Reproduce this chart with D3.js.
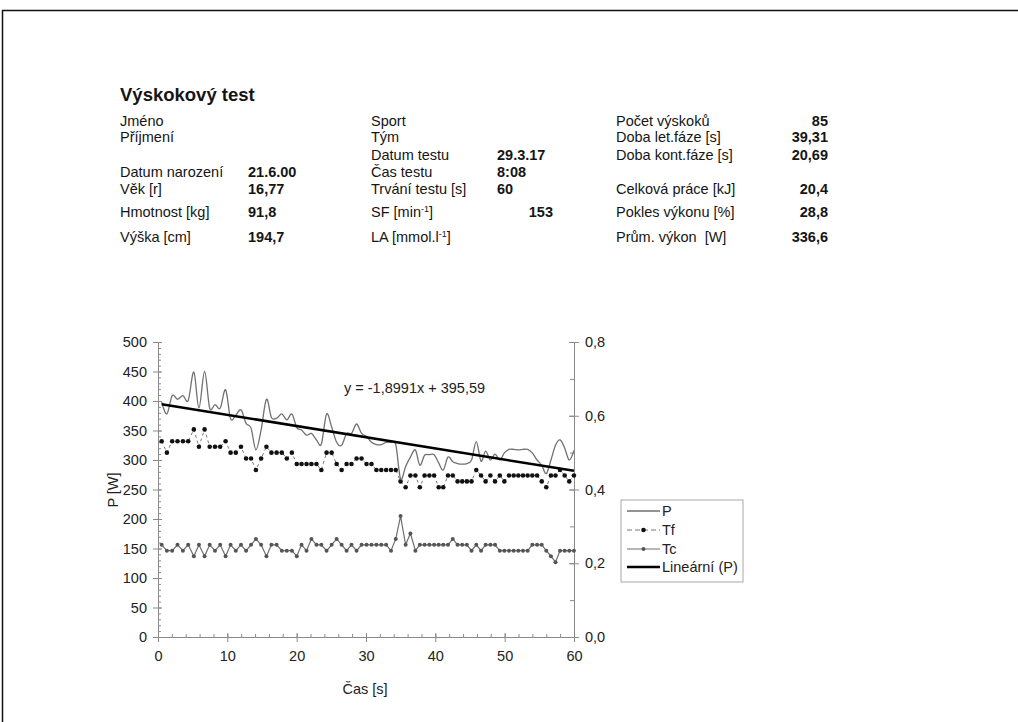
<!DOCTYPE html>
<html>
<head>
<meta charset="utf-8">
<script src="https://cdn.jsdelivr.net/npm/d3@7"></script>
<style>
html, body { margin: 0; padding: 0; background: #fff; }
svg { display: block; font-family: "Liberation Sans", Arial, sans-serif; }
svg text { white-space: pre; }
</style>
</head>
<body>
<svg id="chart" width="1018" height="722"></svg>
<script>
// Flight time per jump [s]
const tf = [
  0.531, 0.500, 0.531, 0.531, 0.531, 0.531, 0.563, 0.516, 0.563, 0.516,
  0.516, 0.516, 0.531, 0.500, 0.500, 0.516, 0.484, 0.484, 0.453, 0.484,
  0.516, 0.500, 0.500, 0.500, 0.484, 0.500, 0.469,
  0.469, 0.469, 0.469, 0.469, 0.453, 0.500, 0.500, 0.469, 0.453, 0.469,
  0.469, 0.484, 0.484, 0.469, 0.469, 0.453, 0.453, 0.453, 0.453, 0.453,
  0.422, 0.406, 0.438, 0.438, 0.406, 0.438, 0.438, 0.438, 0.406, 0.406,
  0.438, 0.438, 0.422, 0.422, 0.422, 0.422, 0.453, 0.438, 0.422, 0.438,
  0.422, 0.438, 0.422, 0.438, 0.438, 0.438, 0.438, 0.438, 0.438, 0.438,
  0.422, 0.406, 0.438, 0.438, 0.453, 0.438, 0.422, 0.438
];
// Contact time per jump [s]
const tc = [
  0.250, 0.234, 0.234, 0.250, 0.234, 0.250, 0.219, 0.250, 0.219, 0.250,
  0.234, 0.250, 0.219, 0.250, 0.234, 0.250, 0.234, 0.250, 0.266, 0.250,
  0.219, 0.250, 0.250, 0.234, 0.234, 0.234, 0.219, 0.250, 0.234, 0.266,
  0.250, 0.250, 0.234, 0.250, 0.266, 0.250, 0.234, 0.250, 0.234,
  0.250, 0.250, 0.250, 0.250, 0.250, 0.250, 0.234, 0.266, 0.328, 0.250,
  0.281, 0.234, 0.250, 0.250, 0.250, 0.250, 0.250, 0.250, 0.250, 0.266,
  0.250, 0.250, 0.250, 0.234, 0.250, 0.234, 0.250, 0.250, 0.250, 0.234,
  0.234, 0.234, 0.234, 0.234, 0.234, 0.234, 0.250, 0.250, 0.250, 0.234,
  0.219, 0.203, 0.234, 0.234, 0.234, 0.234
];
// Power per jump [W]
const power = [
  398, 378, 409, 403, 409, 401, 449, 388, 450, 388,
  394, 388, 419, 370, 376, 385, 362, 354, 317, 351,
  403, 372, 371, 378, 368, 378, 355,
  351, 342, 345, 334, 327, 378, 356, 330, 325, 345,
  345, 361, 345, 340, 330, 326, 326, 330, 330, 326,
  268, 289, 305, 317, 291, 308, 309, 309, 295, 283,
  305, 297, 294, 293, 294, 300, 331, 298, 315, 300,
  310, 300, 312, 318, 318, 317, 318, 318, 312, 300,
  291, 277, 300, 325, 334, 320, 300, 316
];
// Linear trend of P over time
const trendSlope = -1.8991;
const trendIntercept = 395.59;

const timeTicks = [0, 10, 20, 30, 40, 50, 60];
const powerTicks = [0, 50, 100, 150, 200, 250, 300, 350, 400, 450, 500];
const ratioTicks = [0, 0.2, 0.4, 0.6, 0.8];
const seriesNames = ["P", "Tf", "Tc", "Lineární (P)"];

const title = "Výskokový test";
const personInfo = [
  ["Jméno", ""], ["Příjmení", ""], ["Datum narození", "21.6.00"],
  ["Věk [r]", "16,77"], ["Hmotnost [kg]", "91,8"], ["Výška [cm]", "194,7"]
];
const testInfo = [
  ["Sport", ""], ["Tým", ""], ["Datum testu", "29.3.17"], ["Čas testu", "8:08"],
  ["Trvání testu [s]", "60"], ["SF [min", "153", "-1"], ["LA [mmol.l", "", "-1"]
];
const resultInfo = [
  ["Počet výskoků", "85"], ["Doba let.fáze [s]", "39,31"], ["Doba kont.fáze [s]", "20,69"],
  ["Celková práce [kJ]", "20,4"], ["Pokles výkonu [%]", "28,8"], ["Prům. výkon  [W]", "336,6"]
];

// Landing instant of each jump on the running clock
let clock = 0;
const jumps = tf.map((f, i) => {
  const t = clock + f;
  clock += f + tc[i];
  return { t, tf: f, tc: tc[i], p: power[i] };
});

const svg = d3.select("#chart");
svg.append("rect").attr("width", 1018).attr("height", 722).attr("fill", "#fff");

// page frame
svg.append("line").attr("x1", 2).attr("x2", 1018).attr("y1", 10.5).attr("y2", 10.5)
  .attr("stroke", "#111").attr("stroke-width", 1.5);
svg.append("line").attr("x1", 2.5).attr("x2", 2.5).attr("y1", 10).attr("y2", 722)
  .attr("stroke", "#111").attr("stroke-width", 1.5);

// ---- header ----
const ink = "#151515";
const infoSize = 14.5;
svg.append("text").attr("x", 120).attr("y", 101).attr("font-size", 18.5)
  .attr("font-weight", "bold").attr("fill", ink).text(title);

const rowY = [126, 142, 160, 177, 194, 217, 242];

function infoBlock(rows, rowIdx, labelX, valueX, valueAnchor, valueOverride) {
  rows.forEach((r, i) => {
    const y = rowY[rowIdx[i]];
    const lab = svg.append("text").attr("x", labelX).attr("y", y)
      .attr("font-size", infoSize).attr("fill", ink).text(r[0]);
    if (r[2]) {
      lab.append("tspan").attr("dy", -5).attr("font-size", 9).text(r[2]);
      lab.append("tspan").attr("dy", 5).text("]");
    }
    if (r[1]) {
      const right = valueOverride && valueOverride[i] != null;
      svg.append("text").attr("x", right ? valueOverride[i] : valueX).attr("y", y)
        .attr("font-size", infoSize).attr("font-weight", "bold").attr("fill", ink)
        .attr("text-anchor", right ? "end" : valueAnchor)
        .text(r[1]);
    }
  });
}
infoBlock(personInfo, [0, 1, 3, 4, 5, 6], 120, 248, "start");
infoBlock(testInfo, [0, 1, 2, 3, 4, 5, 6], 371, 497, "start", [null, null, null, null, null, 553, null]);
infoBlock(resultInfo, [0, 1, 2, 4, 5, 6], 616, 828, "end");

// ---- chart ----
const x = d3.scaleLinear().domain([0, 60]).range([158, 574]);
const yP = d3.scaleLinear().domain([0, 500]).range([637, 342]);
const yT = d3.scaleLinear().domain([0, 0.8]).range([637, 342]);

const axisColor = "#8a8a8a";
const labelColor = "#222";
const comma = v => d3.format(".1f")(v).replace(".", ",");

function styleAxis(g) {
  g.select(".domain").attr("stroke", axisColor).attr("stroke-width", 1);
  g.selectAll(".tick line").attr("stroke", axisColor);
  g.selectAll(".tick text").attr("fill", labelColor).attr("font-size", 14.5)
    .attr("font-family", "Liberation Sans, Arial, sans-serif");
}

// minor ticks (inside)
svg.append("g").attr("transform", "translate(158,0)")
  .call(d3.axisLeft(yP).tickValues(d3.range(0, 501, 10)).tickSize(-3).tickSizeOuter(0).tickFormat(""))
  .call(styleAxis);
svg.append("g").attr("transform", "translate(0,637)")
  .call(d3.axisBottom(x).tickValues(d3.range(0, 61, 2)).tickSize(-3).tickSizeOuter(0).tickFormat(""))
  .call(styleAxis);
svg.append("g").attr("transform", "translate(574,0)")
  .call(d3.axisRight(yT).tickValues(d3.range(0, 0.81, 0.1)).tickSize(-4).tickSizeOuter(0).tickFormat(""))
  .call(styleAxis);

// major ticks (crossing)
const gL = svg.append("g").attr("transform", "translate(158,0)")
  .call(d3.axisLeft(yP).tickValues(powerTicks).tickSize(5).tickPadding(6).tickSizeOuter(0))
  .call(styleAxis);
gL.selectAll(".tick line").attr("x2", 4).attr("x1", -5);

const gB = svg.append("g").attr("transform", "translate(0,637)")
  .call(d3.axisBottom(x).tickValues(timeTicks).tickSize(5).tickPadding(9).tickSizeOuter(0))
  .call(styleAxis);
gB.selectAll(".tick line").attr("y1", -4).attr("y2", 5);

const gR = svg.append("g").attr("transform", "translate(574,0)")
  .call(d3.axisRight(yT).tickValues(ratioTicks).tickSize(5).tickPadding(6).tickSizeOuter(0).tickFormat(comma))
  .call(styleAxis);
gR.selectAll(".tick line").attr("x1", -5).attr("x2", 5);

// axis titles
svg.append("text").attr("x", 365).attr("y", 694).attr("text-anchor", "middle")
  .attr("font-size", 14.5).attr("fill", labelColor).text("Čas [s]");
svg.append("text").attr("transform", "translate(118,490) rotate(-90)")
  .attr("text-anchor", "middle").attr("font-size", 14.5).attr("fill", labelColor).text("P [W]");

// Tc series
svg.append("path").datum(jumps)
  .attr("d", d3.line().x(d => x(d.t)).y(d => yT(d.tc)))
  .attr("fill", "none").attr("stroke", "#6e6e6e").attr("stroke-width", 1.2);
svg.append("g").selectAll("circle").data(jumps).join("circle")
  .attr("cx", d => x(d.t)).attr("cy", d => yT(d.tc)).attr("r", 2).attr("fill", "#555");

// Tf series
svg.append("path").datum(jumps)
  .attr("d", d3.line().x(d => x(d.t)).y(d => yT(d.tf)))
  .attr("fill", "none").attr("stroke", "#777").attr("stroke-width", 1)
  .attr("stroke-dasharray", "3,3");
svg.append("g").selectAll("circle").data(jumps).join("circle")
  .attr("cx", d => x(d.t)).attr("cy", d => yT(d.tf)).attr("r", 2.3).attr("fill", "#111");

// P series, smoothed
svg.append("path").datum(jumps)
  .attr("d", d3.line().curve(d3.curveCardinal.tension(0)).x(d => x(d.t)).y(d => yP(d.p)))
  .attr("fill", "none").attr("stroke", "#707070").attr("stroke-width", 1.3);

// linear trend
const tStart = jumps[0].t, tEnd = jumps[jumps.length - 1].t;
svg.append("line")
  .attr("x1", x(tStart)).attr("y1", yP(trendSlope * tStart + trendIntercept))
  .attr("x2", x(tEnd)).attr("y2", yP(trendSlope * tEnd + trendIntercept))
  .attr("stroke", "#000").attr("stroke-width", 2.5);
svg.append("text").attr("x", 344).attr("y", 393).attr("font-size", 14.5).attr("fill", labelColor)
  .text(`y = ${String(trendSlope).replace(".", ",")}x + ${String(trendIntercept).replace(".", ",")}`);

// legend
const lg = svg.append("g").attr("transform", "translate(621,500)");
lg.append("rect").attr("width", 122).attr("height", 82).attr("fill", "#fff")
  .attr("stroke", "#a8a8a8").attr("stroke-width", 1);
const legendY = [11, 30, 49, 67];
seriesNames.forEach((name, i) => {
  const g = lg.append("g").attr("transform", `translate(0,${legendY[i]})`);
  const line = g.append("line").attr("x1", 6).attr("x2", 39).attr("y1", 0).attr("y2", 0);
  if (i === 0) line.attr("stroke", "#707070").attr("stroke-width", 1.3);
  if (i === 1) {
    line.attr("stroke", "#777").attr("stroke-width", 1).attr("stroke-dasharray", "5,3");
    g.append("circle").attr("cx", 22.5).attr("cy", 0).attr("r", 2.3).attr("fill", "#111");
  }
  if (i === 2) {
    line.attr("stroke", "#6e6e6e").attr("stroke-width", 1.2);
    g.append("circle").attr("cx", 22.5).attr("cy", 0).attr("r", 2).attr("fill", "#555");
  }
  if (i === 3) line.attr("stroke", "#000").attr("stroke-width", 2.5);
  g.append("text").attr("x", 41).attr("y", 5).attr("font-size", 14.5).attr("fill", labelColor).text(name);
});
</script>
</body>
</html>
